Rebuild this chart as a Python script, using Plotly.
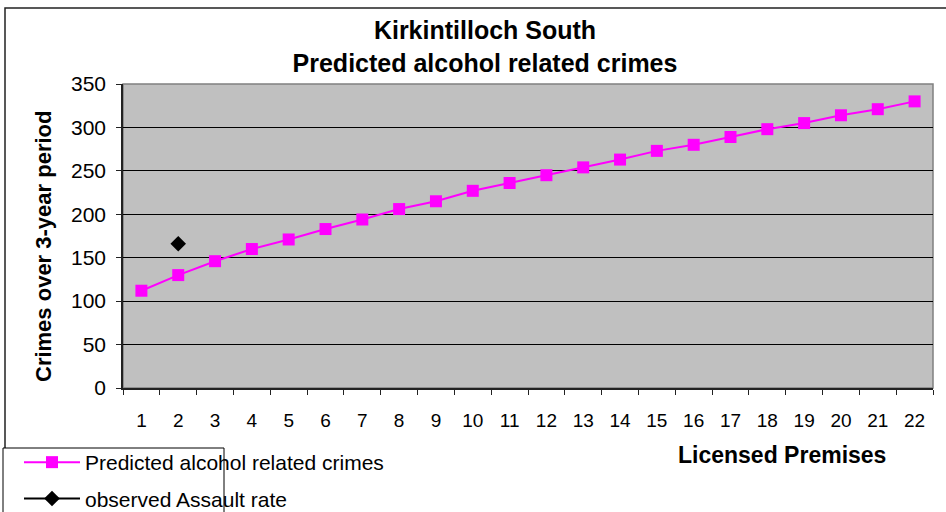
import plotly.graph_objects as go

premises = [str(i) for i in range(1, 23)]
predicted = [112, 130, 146, 160, 171, 183, 194, 206, 215, 227, 236,
             245, 254, 263, 273, 280, 289, 298, 305, 314, 321, 330]
observed_x = ["2"]
observed_y = [166]

FONT = "Arial, Liberation Sans, sans-serif"
W, H = 946, 512
ML, MR, MT, MB = 123, 13, 84, 124
PW, PH = W - ML - MR, H - MT - MB

def px_x(p):
    return (p - ML) / PW

def px_y(p):
    return (H - MB - p) / PH

fig = go.Figure()
fig.add_trace(go.Scatter(
    x=premises, y=predicted, mode="lines+markers",
    name="Predicted alcohol related crimes", legendgroup="a",
    line=dict(color="#FF00FF", width=2),
    marker=dict(symbol="square", size=12, color="#FF00FF"),
))
fig.add_trace(go.Scatter(
    x=observed_x, y=observed_y, mode="lines+markers",
    name="observed Assault rate", legendgroup="b",
    line=dict(color="#000000", width=2),
    marker=dict(symbol="diamond", size=12, color="#000000"),
))

fig.update_layout(
    width=W, height=H,
    margin=dict(l=ML, r=MR, t=MT, b=MB, autoexpand=False),
    paper_bgcolor="white", plot_bgcolor="#C0C0C0",
    font=dict(family=FONT, color="black"),
    title=dict(text="<b>Kirkintilloch South<br>Predicted alcohol related crimes</b>",
               font=dict(size=25, family=FONT, color="black"),
               xref="container", yref="container", x=485 / W, xanchor="center",
               y=1 - 39 / H, yanchor="middle"),
    showlegend=True,
    legend=dict(x=px_x(19), y=px_y(442), xanchor="left", yanchor="top",
                bgcolor="rgba(0,0,0,0)", borderwidth=0,
                font=dict(size=21, family=FONT, color="black"),
                tracegroupgap=6, itemwidth=56),
    xaxis=dict(type="category", range=[-0.5, 21.5], showgrid=False,
               showline=True, linecolor="#222222", linewidth=1.5,
               ticks="outside", ticklen=5, tickcolor="#222222", tickson="boundaries",
               tickfont=dict(size=19, family=FONT), ticklabelstandoff=14,
               zeroline=False),
    yaxis=dict(range=[0, 350], dtick=50, showgrid=True, gridcolor="black", gridwidth=1,
               showline=True, linecolor="#222222", linewidth=1.5,
               ticks="outside", ticklen=5, tickcolor="#222222",
               tickfont=dict(size=21, family=FONT), ticklabelstandoff=6,
               zeroline=False),
    shapes=[
        dict(type="rect", xref="paper", yref="paper", x0=0, x1=1, y0=0, y1=1,
             line=dict(color="#808080", width=1.5), layer="below"),
        dict(type="rect", xref="paper", yref="paper",
             x0=px_x(5), x1=px_x(1020), y0=px_y(560), y1=px_y(8),
             line=dict(color="#222222", width=1.5), layer="below"),
        dict(type="rect", xref="paper", yref="paper",
             x0=px_x(3), x1=px_x(224), y0=px_y(540), y1=px_y(448),
             line=dict(color="black", width=1), fillcolor="white", layer="below"),
    ],
    annotations=[
        dict(text="<b>Licensed Premises</b>", xref="paper", yref="paper",
             x=px_x(782), y=px_y(455), xanchor="center", yanchor="middle",
             showarrow=False, font=dict(size=23, family=FONT, color="black")),
        dict(text="<b>Crimes over 3-year period</b>", xref="paper", yref="paper",
             x=px_x(44), y=px_y(247), xanchor="center", yanchor="middle",
             textangle=-90, showarrow=False,
             font=dict(size=22, family=FONT, color="black")),
    ],
)

fig.write_html("out.html", config={"displayModeBar": False},
               post_script="document.body.style.margin='0px';")
